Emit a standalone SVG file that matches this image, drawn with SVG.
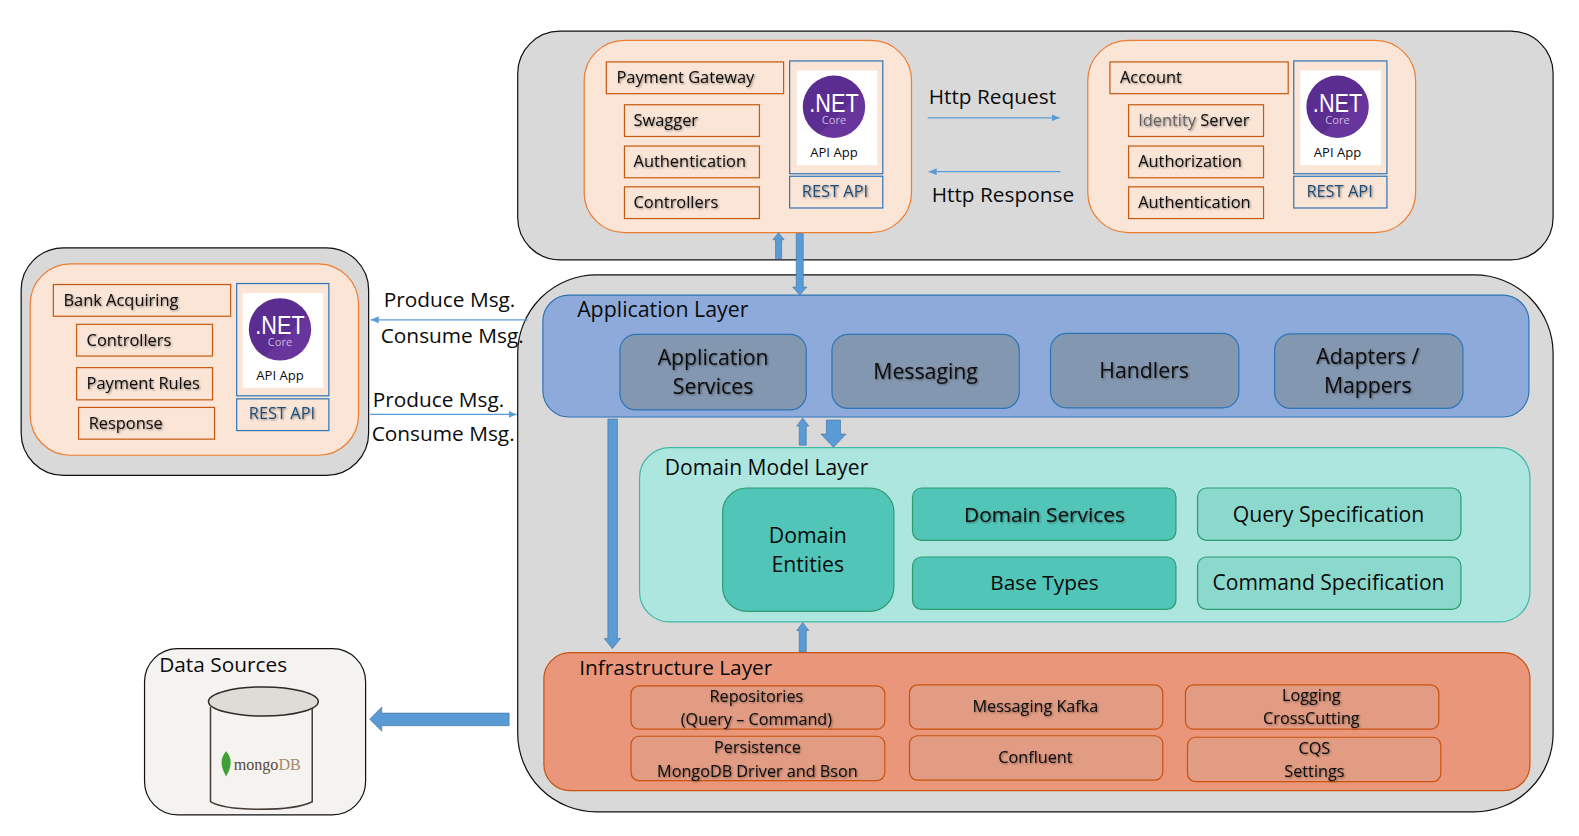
<svg xmlns="http://www.w3.org/2000/svg" width="1579" height="836" viewBox="0 0 1579 836">
<style>
text{font-family:"Open Sans","Noto Sans","Liberation Sans",sans-serif;fill:#0b0b0b}
.c{text-anchor:middle}
.h{font-size:21.2px}
.l{font-size:20.7px}
.m{font-size:21.1px}
.d{font-size:20.7px}
.s{font-size:16.3px}
.i{font-size:16.1px}
.sh{filter:url(#ts)}
.panel{fill:#d9d9d9;stroke:#111;stroke-width:1.2}
.svc{fill:#fbe5d6;stroke:#ed7d31;stroke-width:1.2}
.ob{fill:#fbe5d6;stroke:#c55a11;stroke-width:1.2}
.bb{fill:none;stroke:#2e75b6;stroke-width:1.2}
.rest{font-size:16.3px;fill:#1f4e79;text-anchor:middle}
.in{fill:#e29c84;stroke:#c9530f;stroke-width:1.2}
.ap{fill:#8497b0;stroke:#2e75b6;stroke-width:1.2}
.dk{fill:#52c5b9;stroke:#2e9c6e;stroke-width:1.2}
.lt{fill:#8ad9cc;stroke:#2e9c6e;stroke-width:1.2}
.thin{stroke:#5b9bd5;stroke-width:1.2;fill:none}
.ar{fill:#5b9bd5;stroke:#41719c;stroke-width:.6}
</style>
<defs>
<filter id="ts" x="-5%" y="-15%" width="110%" height="140%"><feGaussianBlur in="SourceAlpha" stdDeviation="1"/><feOffset dx="1" dy="1.2"/><feComponentTransfer><feFuncA type="linear" slope=".45"/></feComponentTransfer><feMerge><feMergeNode/><feMergeNode in="SourceGraphic"/></feMerge></filter>
<marker id="mh" markerWidth="9" markerHeight="8" refX="8" refY="3.5" orient="auto" markerUnits="userSpaceOnUse"><path d="M0 0L8 3.5L0 7z" fill="#5b9bd5"/></marker>
<linearGradient id="ng" x1="0" y1="0" x2="1" y2="1"><stop offset=".6" stop-color="#5c2d91"/><stop offset=".6" stop-color="#68359c"/></linearGradient>
<g id="logo">
<rect x="0" y="0" width="80" height="94" fill="#fff"/>
<circle cx="37" cy="36" r="31" fill="url(#ng)"/>
<text x="37" y="41" class="c" textLength="49" lengthAdjust="spacingAndGlyphs" style="font-size:25px;fill:#fff;font-family:'Liberation Sans',sans-serif">.NET</text>
<text x="37" y="53" class="c" style="font-size:11px;fill:#c8b8dc">Core</text>
<text x="37" y="86" class="c" style="font-size:13px">API App</text>
</g>
</defs>
<rect width="1579" height="836" fill="#fff"/>
<g id="diagram" transform="scale(1.0072)">
<g id="top-panel">
<rect class="panel" x="514" y="31" width="1028" height="227" rx="42"/>
</g>
<g id="main-panel">
<rect class="panel" x="514" y="273" width="1028" height="533" rx="78"/>
</g>

<g id="payment-gateway">
<rect class="svc" x="580" y="40" width="325" height="191" rx="40"/>
<rect class="ob" x="602" y="61.500" width="176" height="31.500"/>
<text class="s sh" x="612" y="82">Payment Gateway</text>
<rect class="ob" x="620" y="104" width="134" height="31.500"/>
<text class="s sh" x="629" y="125">Swagger</text>
<rect class="ob" x="620" y="145" width="134" height="31.500"/>
<text class="s sh" x="629" y="166">Authentication</text>
<rect class="ob" x="620" y="185.500" width="134" height="31.500"/>
<text class="s sh" x="629" y="206.500">Controllers</text>
<rect class="bb" x="784" y="60.500" width="92.500" height="112"/>
<use href="#logo" x="791" y="70"/>
<rect class="bb" x="784" y="175" width="92.500" height="31.500"/>
<text class="rest sh" x="829" y="196">REST API</text>
</g>

<g id="account">
<rect class="svc" x="1080" y="40" width="325.500" height="191" rx="40"/>
<rect class="ob" x="1102" y="61.500" width="177" height="31.500"/>
<text class="s sh" x="1112" y="82">Account</text>
<rect class="ob" x="1120.500" y="104" width="134" height="31.500"/>
<text class="s sh" x="1130" y="125"><tspan fill="#5f6368">Identity</tspan> Server</text>
<rect class="ob" x="1120.500" y="145" width="134" height="31.500"/>
<text class="s sh" x="1130" y="166">Authorization</text>
<rect class="ob" x="1120.500" y="185.500" width="134" height="31.500"/>
<text class="s sh" x="1130" y="206.500">Authentication</text>
<rect class="bb" x="1284.500" y="60.500" width="92.500" height="112"/>
<use href="#logo" x="1291" y="70"/>
<rect class="bb" x="1284.500" y="175" width="92.500" height="31.500"/>
<text class="rest sh" x="1330" y="196">REST API</text>
</g>

<g id="bank-acquiring">
<rect class="panel" x="21" y="246" width="345" height="226" rx="42"/>
<rect class="svc" x="30" y="262" width="326" height="190" rx="40"/>
<rect class="ob" x="53" y="282.500" width="176" height="31.500"/>
<text class="s sh" x="63" y="303.500">Bank Acquiring</text>
<rect class="ob" x="76" y="322" width="135" height="31.500"/>
<text class="s sh" x="86" y="344">Controllers</text>
<rect class="ob" x="76" y="365" width="135" height="32"/>
<text class="s sh" x="86" y="386">Payment Rules</text>
<rect class="ob" x="78" y="404.500" width="135" height="31.500"/>
<text class="s sh" x="88" y="425.500">Response</text>
<rect class="bb" x="235" y="281.500" width="91.500" height="111.500"/>
<use href="#logo" x="241" y="291"/>
<rect class="bb" x="235" y="396" width="91.500" height="31.500"/>
<text class="rest sh" x="280" y="416">REST API</text>
</g>

<g id="application-layer">
<rect x="539" y="293" width="979" height="121" rx="26" fill="#8eaadb" stroke="#2e75b6" stroke-width="1.2"/>
<text class="h" x="573" y="315">Application Layer</text>
<rect class="ap" x="615.500" y="332" width="185" height="75" rx="16"/>
<text class="m c sh" x="708" y="362">Application</text>
<text class="m c sh" x="708" y="391">Services</text>
<rect class="ap" x="826" y="332" width="186" height="73.500" rx="16"/>
<text class="m c sh" x="919" y="376">Messaging</text>
<rect class="ap" x="1043" y="331" width="187" height="74" rx="16"/>
<text class="m c sh" x="1136" y="375">Handlers</text>
<rect class="ap" x="1265.500" y="331.500" width="187" height="74" rx="16"/>
<text class="m c sh" x="1358" y="361">Adapters /</text>
<text class="m c sh" x="1358" y="390">Mappers</text>
</g>

<g id="domain-model-layer">
<rect x="635" y="444.500" width="884" height="173" rx="30" fill="#ade5df" stroke="#3fb8a8" stroke-width="1.2"/>
<text class="h" x="660" y="472" style="font-size:20.9px">Domain Model Layer</text>
<rect class="dk" x="717.500" y="484.500" width="170" height="122.500" rx="24"/>
<text class="m c" x="802" y="539">Domain</text>
<text class="m c" x="802" y="568">Entities</text>
<rect class="dk" x="906" y="484.500" width="261.500" height="52" rx="9"/>
<text class="d c sh" x="1037" y="518">Domain Services</text>
<rect class="dk" x="906" y="553" width="261.500" height="52" rx="9"/>
<text class="d c" x="1037" y="586">Base Types</text>
<rect class="lt" x="1189" y="484.500" width="261.500" height="52" rx="9"/>
<text class="m c" x="1319" y="518">Query Specification</text>
<rect class="lt" x="1189" y="553" width="261.500" height="52" rx="9"/>
<text class="c" x="1319" y="586" style="font-size:20.9px">Command Specification</text>
</g>

<g id="infrastructure-layer">
<rect x="540" y="648" width="979" height="137" rx="26" fill="#e9967a" stroke="#c9530f" stroke-width="1.2"/>
<text class="h" x="575" y="670" style="font-size:20.7px">Infrastructure Layer</text>
<rect class="in" x="626.500" y="681" width="252" height="43" rx="8"/>
<text class="i c sh" x="751" y="697">Repositories</text>
<text class="i c sh" x="751" y="720">(Query – Command)</text>
<rect class="in" x="903" y="680" width="251.500" height="44" rx="8"/>
<text class="i c sh" x="1028" y="707">Messaging Kafka</text>
<rect class="in" x="1177" y="680" width="251.500" height="44" rx="8"/>
<text class="i c sh" x="1302" y="696">Logging</text>
<text class="i c sh" x="1302" y="719">CrossCutting</text>
<rect class="in" x="626.500" y="731" width="252" height="44" rx="8"/>
<text class="i c sh" x="752" y="748">Persistence</text>
<text class="i c sh" x="752" y="771">MongoDB Driver and Bson</text>
<rect class="in" x="903" y="730.500" width="251.500" height="44" rx="8"/>
<text class="i c sh" x="1028" y="757.500">Confluent</text>
<rect class="in" x="1179" y="732" width="251.500" height="44" rx="8"/>
<text class="i c sh" x="1305" y="749">CQS</text>
<text class="i c sh" x="1305" y="771">Settings</text>
</g>

<g id="data-sources">
<rect x="143.500" y="644" width="219.500" height="165" rx="33" fill="#f4f3ef" stroke="#111" stroke-width="1.2"/>
<text class="l" x="158" y="667">Data Sources</text>
<path d="M209 702V796C225 806 290 806 310 796V702" fill="#f4f3ef" stroke="#443c38" stroke-width="1.5"/>
<ellipse cx="261.500" cy="696.500" rx="54.500" ry="14.500" fill="#dedcd7" stroke="#2f2a28" stroke-width="1.5"/>
<path d="M224.500 746C219 752 218 760 224.500 771C231 760 230 752 224.500 746Z" fill="#3fa037"/>
<text x="232" y="764" style="font-family:'Liberation Serif',serif;font-size:16px;fill:#5a4a3a">mongo<tspan fill="#a08c70">DB</tspan></text>
</g>

<g id="connectors">
<path class="thin" d="M921 117H1052" marker-end="url(#mh)"/>
<path class="thin" d="M1053 170.500H922" marker-end="url(#mh)"/>
<path class="thin" d="M524 317.500H368" marker-end="url(#mh)"/>
<path class="thin" d="M367 411.500H513" marker-end="url(#mh)"/>
<path class="ar" d="M770 257V238H767.500L773 231L778.500 238H776V257Z"/>
<path class="ar" d="M790.500 232H797.500V285H801L794 293L787 285H790.500Z"/>
<path class="ar" d="M793.500 442V423H791L797 415L803 423H800.500V442Z"/>
<path class="ar" d="M820.500 417H834.500V431H840L827.500 444L815 431H820.500Z"/>
<path class="ar" d="M793.500 647V626H791L797 618L803 626H800.500V647Z"/>
<path class="ar" d="M603.500 416H613V634H616L608 644L600 634H603.500Z"/>
<path class="ar" d="M505.500 708V720.500H379V726L367 714L379 702V708Z"/>
</g>

<g id="connector-labels">
<text class="l" x="922" y="103">Http Request</text>
<text class="l" x="925" y="201">Http Response</text>
<text class="l" x="381" y="305">Produce Msg.</text>
<text class="l" x="378" y="341">Consume Msg.</text>
<text class="l" x="370" y="404">Produce Msg.</text>
<text class="l" x="369" y="438">Consume Msg.</text>
</g>
</g>
</svg>
